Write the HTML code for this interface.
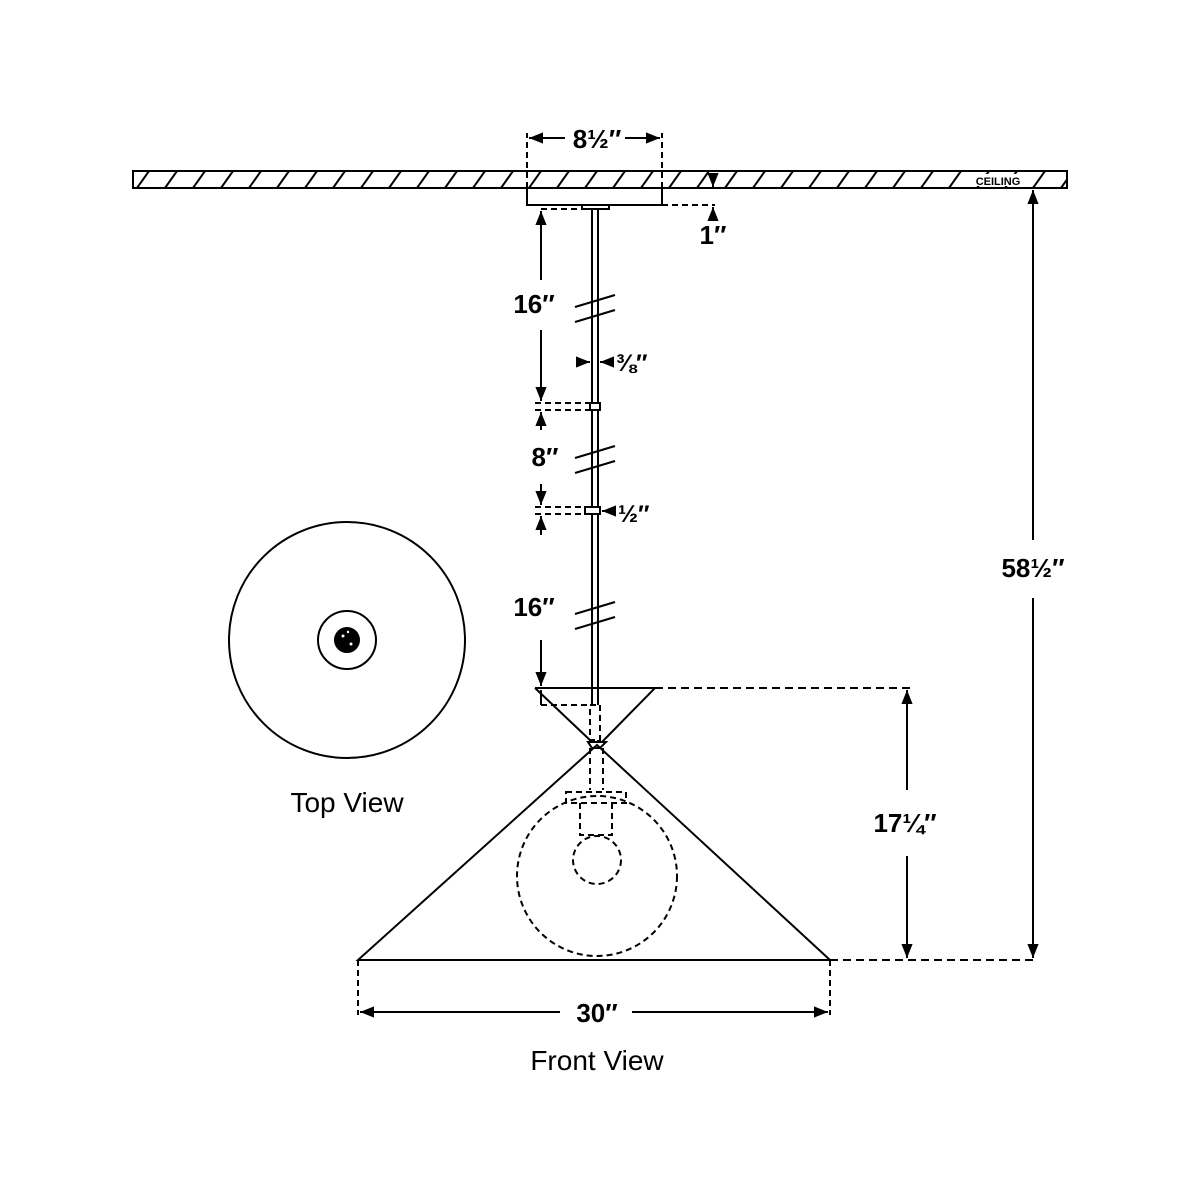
<!DOCTYPE html>
<html><head><meta charset="utf-8"><style>html,body{margin:0;padding:0;background:#fff}svg{display:block}</style></head>
<body>
<svg width="1200" height="1200" viewBox="0 0 1200 1200" xmlns="http://www.w3.org/2000/svg" font-family="Liberation Sans, sans-serif">
<defs>
<marker id="a" viewBox="0 0 10 10" refX="10" refY="5" markerWidth="7" markerHeight="7" orient="auto-start-reverse"><path d="M0,1 L10,5 L0,9 z" fill="#000"/></marker>
<pattern id="h" x="133" y="171" width="28" height="17" patternUnits="userSpaceOnUse"><line x1="4" y1="17" x2="16" y2="0" stroke="#000" stroke-width="2"/></pattern>
</defs>
<g stroke="#000" fill="none" stroke-width="2">
<rect x="133" y="171" width="934" height="17" fill="url(#h)"/>
<rect x="970" y="174" width="56" height="12" fill="#fff" stroke="none"/>
<path d="M527,188 V205 H662 V188"/>
<path d="M527,188 V133 M662,188 V133" stroke-dasharray="6,4"/>
<line x1="565" y1="138" x2="529" y2="138" marker-end="url(#a)"/>
<line x1="625" y1="138" x2="660" y2="138" marker-end="url(#a)"/>
<rect x="582" y="205" width="27" height="4"/>
<line x1="592" y1="209" x2="592" y2="742"/>
<line x1="598" y1="209" x2="598" y2="742"/>
<path d="M662,205 H715" stroke-dasharray="6,4"/>
<line x1="713" y1="176" x2="713" y2="187" marker-end="url(#a)"/>
<line x1="713" y1="215" x2="713" y2="207" marker-end="url(#a)"/>
<path d="M541,209 H582" stroke-dasharray="6,4"/>
<line x1="541" y1="280" x2="541" y2="211" marker-end="url(#a)"/>
<line x1="541" y1="330" x2="541" y2="401" marker-end="url(#a)"/>
<path d="M535,403 H590 M535,410 H590" stroke-dasharray="6,4"/>
<rect x="590" y="403" width="10" height="7" fill="#fff"/>
<line x1="541" y1="430" x2="541" y2="412" marker-end="url(#a)"/>
<line x1="541" y1="484" x2="541" y2="505" marker-end="url(#a)"/>
<path d="M535,507 H585 M535,514 H585" stroke-dasharray="6,4"/>
<rect x="585" y="507" width="15" height="7" fill="#fff"/>
<line x1="541" y1="535" x2="541" y2="516" marker-end="url(#a)"/>
<line x1="541" y1="640" x2="541" y2="686" marker-end="url(#a)"/>
<path d="M575,307 L615,295 M575,322 L615,310 M575,458 L615,446 M575,473 L615,461 M575,614 L615,602 M575,629 L615,617" fill="#fff"/>
<line x1="583" y1="362" x2="590" y2="362" marker-end="url(#a)"/>
<line x1="607" y1="362" x2="600" y2="362" marker-end="url(#a)"/>
<line x1="612" y1="511" x2="602" y2="511" marker-end="url(#a)"/>
<path d="M535,688 H655 L602,742 M535,688 L592,742"/>
<path d="M655,688 H910" stroke-dasharray="8,5"/>
<line x1="541" y1="690" x2="541" y2="705"/>
<path d="M541,705 H590" stroke-dasharray="6,4"/>
<path d="M590,705 H600 V740 H590 Z M590,748 V790 M603,748 V790" stroke-dasharray="6,4" fill="#fff"/>
<path d="M588,742 H606 L600,748 H592 Z" />
<path d="M597,745 L358,960 H830 Z"/>
<path d="M830,960 H1035" stroke-dasharray="8,5"/>
<g stroke-dasharray="6,4">
<rect x="566" y="792" width="60" height="11" fill="#fff"/>
<path d="M580,803 V835 H612 V803"/>
<circle cx="597" cy="876" r="80"/>
<ellipse cx="597" cy="860" rx="24" ry="24"/>
</g>
<line x1="907" y1="790" x2="907" y2="690" marker-end="url(#a)"/>
<line x1="907" y1="856" x2="907" y2="958" marker-end="url(#a)"/>
<line x1="1033" y1="540" x2="1033" y2="190" marker-end="url(#a)"/>
<line x1="1033" y1="598" x2="1033" y2="958" marker-end="url(#a)"/>
<path d="M358,960 V1015 M830,960 V1015" stroke-dasharray="6,4"/>
<line x1="560" y1="1012" x2="360" y2="1012" marker-end="url(#a)"/>
<line x1="632" y1="1012" x2="828" y2="1012" marker-end="url(#a)"/>
<circle cx="347" cy="640" r="118"/>
<circle cx="347" cy="640" r="29"/>
<circle cx="347" cy="640" r="12" fill="#000"/>
</g>
<g fill="#fff"><circle cx="343" cy="636" r="1.5"/><circle cx="351" cy="644" r="1.5"/><circle cx="348" cy="632" r="1.2"/></g>
<g font-weight="bold" font-size="26" text-anchor="middle" fill="#000">
<text x="597" y="148">8½″</text>
<text x="713" y="244">1″</text>
<text x="534" y="313">16″</text>
<text x="545" y="466">8″</text>
<text x="534" y="616">16″</text>
<text x="616" y="371" font-size="24" text-anchor="start">⅜″</text>
<text x="618" y="522" font-size="24" text-anchor="start">½″</text>
<text x="905" y="832">17¼″</text>
<text x="1033" y="577">58½″</text>
<text x="597" y="1022">30″</text>
<text x="998" y="185" font-size="11">CEILING</text>
</g>
<g font-size="28" text-anchor="middle" fill="#000">
<text x="347" y="812">Top View</text>
<text x="597" y="1070">Front View</text>
</g>
</svg>
</body></html>
